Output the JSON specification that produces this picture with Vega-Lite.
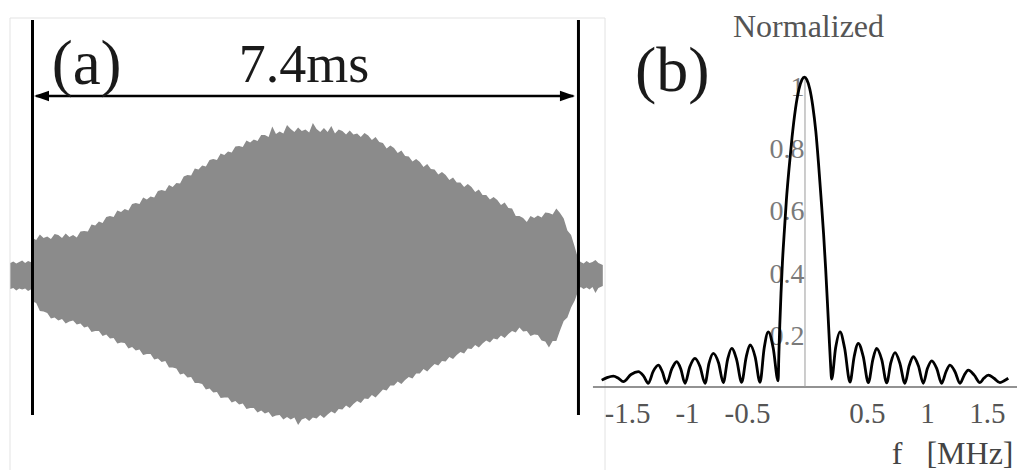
{
  "$schema": "https://vega.github.io/schema/vega-lite/v6.json",
  "width": 1017,
  "height": 470,
  "autosize": {"type": "none"},
  "padding": 0,
  "background": "white",
  "config": {"view": {"stroke": null}, "text": {"font": "Liberation Serif"}},
  "datasets": {
    "wave": [
      {"t": -0.30, "hi": 1.2, "lo": -1.4},
      {"t": -0.26, "hi": 1.35, "lo": -1.3},
      {"t": -0.22, "hi": 1.15, "lo": -1.55},
      {"t": -0.18, "hi": 1.3, "lo": -1.35},
      {"t": -0.14, "hi": 1.45, "lo": -1.45},
      {"t": -0.10, "hi": 1.2, "lo": -1.35},
      {"t": -0.06, "hi": 1.4, "lo": -1.6},
      {"t": -0.01, "hi": 1.25, "lo": -1.4},
      {"t": 0.00, "hi": 3.7, "lo": -2.65},
      {"t": 0.05, "hi": 3.5, "lo": -2.8},
      {"t": 0.10, "hi": 4.05, "lo": -3.6},
      {"t": 0.15, "hi": 3.7, "lo": -3.65},
      {"t": 0.20, "hi": 3.85, "lo": -3.8},
      {"t": 0.25, "hi": 3.6, "lo": -4.35},
      {"t": 0.30, "hi": 4.1, "lo": -4.25},
      {"t": 0.35, "hi": 4.0, "lo": -4.55},
      {"t": 0.40, "hi": 3.7, "lo": -4.4},
      {"t": 0.45, "hi": 4.15, "lo": -4.85},
      {"t": 0.50, "hi": 3.8, "lo": -4.65},
      {"t": 0.55, "hi": 4.0, "lo": -4.55},
      {"t": 0.60, "hi": 3.75, "lo": -4.95},
      {"t": 0.65, "hi": 4.35, "lo": -4.85},
      {"t": 0.70, "hi": 4.4, "lo": -5.25},
      {"t": 0.75, "hi": 4.35, "lo": -5.15},
      {"t": 0.80, "hi": 5.05, "lo": -5.7},
      {"t": 0.85, "hi": 4.95, "lo": -5.6},
      {"t": 0.90, "hi": 5.35, "lo": -5.6},
      {"t": 0.95, "hi": 5.2, "lo": -6.1},
      {"t": 1.00, "hi": 5.8, "lo": -5.95},
      {"t": 1.05, "hi": 5.9, "lo": -6.35},
      {"t": 1.10, "hi": 5.8, "lo": -6.3},
      {"t": 1.15, "hi": 6.45, "lo": -6.85},
      {"t": 1.20, "hi": 6.3, "lo": -6.75},
      {"t": 1.25, "hi": 6.6, "lo": -6.8},
      {"t": 1.30, "hi": 6.45, "lo": -7.35},
      {"t": 1.35, "hi": 7.1, "lo": -7.2},
      {"t": 1.40, "hi": 7.2, "lo": -7.55},
      {"t": 1.45, "hi": 7.1, "lo": -7.45},
      {"t": 1.50, "hi": 7.75, "lo": -8.0},
      {"t": 1.55, "hi": 7.55, "lo": -7.9},
      {"t": 1.60, "hi": 7.85, "lo": -7.9},
      {"t": 1.65, "hi": 7.75, "lo": -8.45},
      {"t": 1.70, "hi": 8.4, "lo": -8.35},
      {"t": 1.75, "hi": 8.5, "lo": -8.7},
      {"t": 1.80, "hi": 8.4, "lo": -8.6},
      {"t": 1.85, "hi": 9.0, "lo": -9.25},
      {"t": 1.90, "hi": 8.8, "lo": -9.25},
      {"t": 1.95, "hi": 9.2, "lo": -9.35},
      {"t": 2.00, "hi": 9.15, "lo": -9.95},
      {"t": 2.05, "hi": 9.85, "lo": -9.85},
      {"t": 2.10, "hi": 10.0, "lo": -10.25},
      {"t": 2.15, "hi": 9.95, "lo": -10.2},
      {"t": 2.20, "hi": 10.65, "lo": -10.8},
      {"t": 2.25, "hi": 10.55, "lo": -10.8},
      {"t": 2.30, "hi": 10.95, "lo": -10.9},
      {"t": 2.35, "hi": 10.85, "lo": -11.45},
      {"t": 2.40, "hi": 11.5, "lo": -11.35},
      {"t": 2.45, "hi": 11.6, "lo": -11.75},
      {"t": 2.50, "hi": 11.5, "lo": -11.7},
      {"t": 2.55, "hi": 12.15, "lo": -12.3},
      {"t": 2.60, "hi": 12.0, "lo": -12.25},
      {"t": 2.65, "hi": 12.35, "lo": -12.25},
      {"t": 2.70, "hi": 12.25, "lo": -12.75},
      {"t": 2.75, "hi": 12.85, "lo": -12.6},
      {"t": 2.80, "hi": 12.9, "lo": -12.95},
      {"t": 2.85, "hi": 12.8, "lo": -12.85},
      {"t": 2.90, "hi": 13.45, "lo": -13.4},
      {"t": 2.95, "hi": 13.25, "lo": -13.3},
      {"t": 3.00, "hi": 13.55, "lo": -13.3},
      {"t": 3.05, "hi": 13.4, "lo": -13.75},
      {"t": 3.10, "hi": 14.0, "lo": -13.55},
      {"t": 3.15, "hi": 14.0, "lo": -13.85},
      {"t": 3.20, "hi": 13.8, "lo": -13.7},
      {"t": 3.25, "hi": 14.85, "lo": -14.2},
      {"t": 3.30, "hi": 14.1, "lo": -14.05},
      {"t": 3.35, "hi": 14.35, "lo": -14.0},
      {"t": 3.40, "hi": 14.15, "lo": -14.45},
      {"t": 3.45, "hi": 15.0, "lo": -14.2},
      {"t": 3.50, "hi": 14.6, "lo": -14.45},
      {"t": 3.55, "hi": 14.3, "lo": -14.25},
      {"t": 3.60, "hi": 14.75, "lo": -15.0},
      {"t": 3.65, "hi": 14.4, "lo": -14.45},
      {"t": 3.70, "hi": 14.55, "lo": -14.3},
      {"t": 3.75, "hi": 14.25, "lo": -14.6},
      {"t": 3.80, "hi": 15.2, "lo": -14.25},
      {"t": 3.85, "hi": 14.6, "lo": -14.35},
      {"t": 3.90, "hi": 14.3, "lo": -14.0},
      {"t": 3.95, "hi": 14.7, "lo": -14.3},
      {"t": 4.00, "hi": 14.3, "lo": -13.95},
      {"t": 4.05, "hi": 14.9, "lo": -13.65},
      {"t": 4.10, "hi": 14.15, "lo": -13.85},
      {"t": 4.15, "hi": 14.55, "lo": -13.4},
      {"t": 4.20, "hi": 14.4, "lo": -13.45},
      {"t": 4.25, "hi": 14.05, "lo": -13.05},
      {"t": 4.30, "hi": 14.45, "lo": -13.3},
      {"t": 4.35, "hi": 14.05, "lo": -12.9},
      {"t": 4.40, "hi": 14.15, "lo": -12.6},
      {"t": 4.45, "hi": 13.8, "lo": -12.8},
      {"t": 4.50, "hi": 14.2, "lo": -12.35},
      {"t": 4.55, "hi": 13.95, "lo": -12.4},
      {"t": 4.60, "hi": 13.5, "lo": -12.0},
      {"t": 4.65, "hi": 13.8, "lo": -12.25},
      {"t": 4.70, "hi": 13.3, "lo": -11.85},
      {"t": 4.75, "hi": 13.2, "lo": -11.45},
      {"t": 4.80, "hi": 12.65, "lo": -11.55},
      {"t": 4.85, "hi": 12.95, "lo": -11.05},
      {"t": 4.90, "hi": 12.7, "lo": -11.05},
      {"t": 4.95, "hi": 12.2, "lo": -10.65},
      {"t": 5.00, "hi": 12.45, "lo": -10.9},
      {"t": 5.05, "hi": 11.9, "lo": -10.5},
      {"t": 5.10, "hi": 11.85, "lo": -10.2},
      {"t": 5.15, "hi": 11.35, "lo": -10.35},
      {"t": 5.20, "hi": 11.6, "lo": -9.85},
      {"t": 5.25, "hi": 11.3, "lo": -9.85},
      {"t": 5.30, "hi": 10.8, "lo": -9.4},
      {"t": 5.35, "hi": 11.1, "lo": -9.65},
      {"t": 5.40, "hi": 10.6, "lo": -9.25},
      {"t": 5.45, "hi": 10.55, "lo": -8.9},
      {"t": 5.50, "hi": 10.05, "lo": -9.05},
      {"t": 5.55, "hi": 10.3, "lo": -8.6},
      {"t": 5.60, "hi": 10.0, "lo": -8.65},
      {"t": 5.65, "hi": 9.5, "lo": -8.2},
      {"t": 5.70, "hi": 9.75, "lo": -8.4},
      {"t": 5.75, "hi": 9.25, "lo": -8.0},
      {"t": 5.80, "hi": 9.25, "lo": -7.7},
      {"t": 5.85, "hi": 8.8, "lo": -7.85},
      {"t": 5.90, "hi": 9.1, "lo": -7.35},
      {"t": 5.95, "hi": 8.8, "lo": -7.4},
      {"t": 6.00, "hi": 8.3, "lo": -7.0},
      {"t": 6.05, "hi": 8.55, "lo": -7.25},
      {"t": 6.10, "hi": 8.0, "lo": -6.85},
      {"t": 6.15, "hi": 8.0, "lo": -6.55},
      {"t": 6.20, "hi": 7.55, "lo": -6.75},
      {"t": 6.25, "hi": 7.8, "lo": -6.35},
      {"t": 6.30, "hi": 7.5, "lo": -6.45},
      {"t": 6.35, "hi": 7.0, "lo": -6.05},
      {"t": 6.40, "hi": 7.25, "lo": -6.3},
      {"t": 6.45, "hi": 6.7, "lo": -5.9},
      {"t": 6.50, "hi": 6.65, "lo": -5.6},
      {"t": 6.55, "hi": 5.9, "lo": -5.75},
      {"t": 6.60, "hi": 5.9, "lo": -5.25},
      {"t": 6.65, "hi": 5.7, "lo": -5.65},
      {"t": 6.70, "hi": 5.3, "lo": -5.6},
      {"t": 6.75, "hi": 5.9, "lo": -6.1},
      {"t": 6.80, "hi": 5.7, "lo": -5.95},
      {"t": 6.85, "hi": 5.95, "lo": -6.0},
      {"t": 6.90, "hi": 5.75, "lo": -6.55},
      {"t": 6.95, "hi": 6.25, "lo": -6.65},
      {"t": 7.00, "hi": 6.2, "lo": -7.25},
      {"t": 7.05, "hi": 6.05, "lo": -6.6},
      {"t": 7.10, "hi": 6.65, "lo": -6.6},
      {"t": 7.15, "hi": 6.2, "lo": -5.55},
      {"t": 7.20, "hi": 5.65, "lo": -4.6},
      {"t": 7.25, "hi": 4.45, "lo": -4.25},
      {"t": 7.30, "hi": 4.0, "lo": -3.25},
      {"t": 7.35, "hi": 2.8, "lo": -2.55},
      {"t": 7.40, "hi": 1.5, "lo": -1.5},
      {"t": 7.43, "hi": 1.3, "lo": -1.2},
      {"t": 7.47, "hi": 1.15, "lo": -1.4},
      {"t": 7.51, "hi": 1.4, "lo": -1.25},
      {"t": 7.55, "hi": 1.2, "lo": -1.45},
      {"t": 7.59, "hi": 1.3, "lo": -1.2},
      {"t": 7.63, "hi": 1.5, "lo": -1.8},
      {"t": 7.67, "hi": 1.2, "lo": -1.3},
      {"t": 7.73, "hi": 1.0, "lo": -1.1}
    ],
    "spec": [
      {"f": -1.694, "v": 0.022},
      {"f": -1.65, "v": 0.03},
      {"f": -1.597, "v": 0.035},
      {"f": -1.555, "v": 0.028},
      {"f": -1.514, "v": 0.017},
      {"f": -1.45, "v": 0.04},
      {"f": -1.389, "v": 0.049},
      {"f": -1.345, "v": 0.035},
      {"f": -1.306, "v": 0.012},
      {"f": -1.265, "v": 0.05},
      {"f": -1.222, "v": 0.07},
      {"f": -1.19, "v": 0.05},
      {"f": -1.153, "v": 0.012},
      {"f": -1.11, "v": 0.058},
      {"f": -1.069, "v": 0.081},
      {"f": -1.035, "v": 0.058},
      {"f": -1.0, "v": 0.012},
      {"f": -0.96, "v": 0.065},
      {"f": -0.917, "v": 0.092},
      {"f": -0.875, "v": 0.066},
      {"f": -0.833, "v": 0.012},
      {"f": -0.80, "v": 0.076},
      {"f": -0.764, "v": 0.108},
      {"f": -0.72, "v": 0.077},
      {"f": -0.681, "v": 0.014},
      {"f": -0.645, "v": 0.088},
      {"f": -0.611, "v": 0.124},
      {"f": -0.57, "v": 0.088},
      {"f": -0.528, "v": 0.015},
      {"f": -0.49, "v": 0.096},
      {"f": -0.458, "v": 0.135},
      {"f": -0.415, "v": 0.096},
      {"f": -0.375, "v": 0.015},
      {"f": -0.34, "v": 0.125},
      {"f": -0.306, "v": 0.177},
      {"f": -0.265, "v": 0.125},
      {"f": -0.224, "v": 0.02},
      {"f": -0.218, "v": 0.10},
      {"f": -0.21, "v": 0.2},
      {"f": -0.2, "v": 0.3},
      {"f": -0.188, "v": 0.4},
      {"f": -0.172, "v": 0.5},
      {"f": -0.155, "v": 0.6},
      {"f": -0.133, "v": 0.7},
      {"f": -0.108, "v": 0.8},
      {"f": -0.08, "v": 0.89},
      {"f": -0.05, "v": 0.955},
      {"f": -0.025, "v": 0.985},
      {"f": -0.005, "v": 0.993},
      {"f": 0.015, "v": 0.985},
      {"f": 0.04, "v": 0.955},
      {"f": 0.065, "v": 0.9},
      {"f": 0.09, "v": 0.82},
      {"f": 0.112, "v": 0.72},
      {"f": 0.135, "v": 0.6},
      {"f": 0.155, "v": 0.49},
      {"f": 0.172, "v": 0.38},
      {"f": 0.187, "v": 0.27},
      {"f": 0.2, "v": 0.17},
      {"f": 0.212, "v": 0.08},
      {"f": 0.222, "v": 0.025},
      {"f": 0.255, "v": 0.125},
      {"f": 0.292, "v": 0.177},
      {"f": 0.33, "v": 0.125},
      {"f": 0.375, "v": 0.016},
      {"f": 0.41, "v": 0.098},
      {"f": 0.444, "v": 0.14},
      {"f": 0.485, "v": 0.098},
      {"f": 0.528, "v": 0.014},
      {"f": 0.565, "v": 0.087},
      {"f": 0.597, "v": 0.124},
      {"f": 0.64, "v": 0.087},
      {"f": 0.681, "v": 0.013},
      {"f": 0.715, "v": 0.077},
      {"f": 0.75, "v": 0.11},
      {"f": 0.79, "v": 0.077},
      {"f": 0.833, "v": 0.012},
      {"f": 0.868, "v": 0.068},
      {"f": 0.903, "v": 0.097},
      {"f": 0.945, "v": 0.068},
      {"f": 0.986, "v": 0.012},
      {"f": 1.02, "v": 0.059},
      {"f": 1.056, "v": 0.084},
      {"f": 1.098, "v": 0.059},
      {"f": 1.139, "v": 0.012},
      {"f": 1.175, "v": 0.049},
      {"f": 1.208, "v": 0.07},
      {"f": 1.25, "v": 0.049},
      {"f": 1.292, "v": 0.012},
      {"f": 1.327, "v": 0.038},
      {"f": 1.361, "v": 0.054},
      {"f": 1.41, "v": 0.038},
      {"f": 1.458, "v": 0.014},
      {"f": 1.49, "v": 0.028},
      {"f": 1.528, "v": 0.038},
      {"f": 1.575, "v": 0.028},
      {"f": 1.625, "v": 0.014},
      {"f": 1.66, "v": 0.02},
      {"f": 1.694, "v": 0.028}
    ]
  },
  "layer": [
    {
      "layer": [
        {
          "data": {"values": [{}]},
          "mark": {"type": "rect", "fill": null, "stroke": "#e3e3e3", "strokeWidth": 1},
          "encoding": {
            "x": {"datum": -0.305, "type": "quantitative", "scale": {"domain": [-0.4405, 13.344], "nice": false, "zero": false}, "axis": null},
            "x2": {"datum": 7.76},
            "y": {"datum": 25.7, "type": "quantitative", "scale": {"domain": [-19.5, 27.5], "nice": false, "zero": false}, "axis": null},
            "y2": {"datum": -25}
          }
        },
        {
          "data": {"name": "wave"},
          "mark": {"type": "area", "color": "#8b8b8b", "interpolate": "linear"},
          "encoding": {
            "x": {"field": "t", "type": "quantitative", "scale": {"domain": [-0.4405, 13.344], "nice": false, "zero": false}, "axis": null},
            "y": {"field": "hi", "type": "quantitative", "scale": {"domain": [-19.5, 27.5], "nice": false, "zero": false}, "axis": null},
            "y2": {"field": "lo"}
          }
        },
        {
          "data": {"values": [{"t": 0}, {"t": 7.4}]},
          "mark": {"type": "rule", "color": "#000000", "strokeWidth": 3},
          "encoding": {
            "x": {"field": "t", "type": "quantitative", "scale": {"domain": [-0.4405, 13.344], "nice": false, "zero": false}, "axis": null},
            "y": {"datum": 25.5, "type": "quantitative", "scale": {"domain": [-19.5, 27.5], "nice": false, "zero": false}, "axis": null},
            "y2": {"datum": -14.0}
          }
        },
        {
          "data": {"values": [{}]},
          "mark": {"type": "rule", "color": "#000000", "strokeWidth": 2.5},
          "encoding": {
            "x": {"datum": 0.05, "type": "quantitative", "scale": {"domain": [-0.4405, 13.344], "nice": false, "zero": false}, "axis": null},
            "x2": {"datum": 7.33},
            "y": {"datum": 17.9, "type": "quantitative", "scale": {"domain": [-19.5, 27.5], "nice": false, "zero": false}, "axis": null}
          }
        },
        {
          "data": {"values": [{}]},
          "mark": {"type": "point", "shape": "M1,0L-1,-0.7L-1,0.7Z", "filled": true, "color": "#000000", "size": 225, "opacity": 1},
          "encoding": {
            "x": {"datum": 7.251, "type": "quantitative", "scale": {"domain": [-0.4405, 13.344], "nice": false, "zero": false}, "axis": null},
            "y": {"datum": 17.9, "type": "quantitative", "scale": {"domain": [-19.5, 27.5], "nice": false, "zero": false}, "axis": null}
          }
        },
        {
          "data": {"values": [{}]},
          "mark": {"type": "point", "shape": "M-1,0L1,-0.7L1,0.7Z", "filled": true, "color": "#000000", "size": 225, "opacity": 1},
          "encoding": {
            "x": {"datum": 0.122, "type": "quantitative", "scale": {"domain": [-0.4405, 13.344], "nice": false, "zero": false}, "axis": null},
            "y": {"datum": 17.9, "type": "quantitative", "scale": {"domain": [-19.5, 27.5], "nice": false, "zero": false}, "axis": null}
          }
        },
        {
          "data": {"values": [{}]},
          "mark": {"type": "text", "text": "(a)", "font": "Liberation Serif", "fontSize": 63, "align": "left", "baseline": "alphabetic", "color": "#1a1a1a"},
          "encoding": {
            "x": {"datum": 0.26, "type": "quantitative", "scale": {"domain": [-0.4405, 13.344], "nice": false, "zero": false}, "axis": null},
            "y": {"datum": 19.1, "type": "quantitative", "scale": {"domain": [-19.5, 27.5], "nice": false, "zero": false}, "axis": null}
          }
        },
        {
          "data": {"values": [{}]},
          "mark": {"type": "text", "text": "7.4ms", "font": "Liberation Serif", "fontSize": 54, "align": "center", "baseline": "alphabetic", "color": "#1a1a1a"},
          "encoding": {
            "x": {"datum": 3.68, "type": "quantitative", "scale": {"domain": [-0.4405, 13.344], "nice": false, "zero": false}, "axis": null},
            "y": {"datum": 19.3, "type": "quantitative", "scale": {"domain": [-19.5, 27.5], "nice": false, "zero": false}, "axis": null}
          }
        }
      ]
    },
    {
      "layer": [
        {
          "data": {"values": [{}]},
          "mark": {"type": "rule", "color": "#6e6e6e", "strokeWidth": 1.5},
          "encoding": {
            "x": {"datum": -1.767, "type": "quantitative", "scale": {"domain": [-6.7083, 1.7667], "nice": false, "zero": false}},
            "x2": {"datum": 1.77},
            "y": {"datum": 0, "type": "quantitative", "scale": {"domain": [-0.266, 1.2404], "nice": false, "zero": false}}
          }
        },
        {
          "data": {"values": [{}]},
          "mark": {"type": "rule", "color": "#9a9a9a", "strokeWidth": 1},
          "encoding": {
            "x": {"datum": 0, "type": "quantitative", "scale": {"domain": [-6.7083, 1.7667], "nice": false, "zero": false}},
            "y": {"datum": 0, "type": "quantitative", "scale": {"domain": [-0.266, 1.2404], "nice": false, "zero": false}},
            "y2": {"datum": 0.99}
          }
        },
        {
          "data": {"name": "spec"},
          "mark": {"type": "line", "color": "#000000", "strokeWidth": 2.8, "interpolate": "monotone"},
          "encoding": {
            "x": {
              "field": "f", "type": "quantitative",
              "scale": {"domain": [-6.7083, 1.7667], "nice": false, "zero": false},
              "axis": {
                "orient": "bottom", "offset": -83, "values": [-1.5, -1, -0.5, 0.5, 1, 1.5],
                "labelExpr": "toString(datum.value)", "domain": false, "ticks": false, "grid": false,
                "labelFont": "Liberation Serif", "labelFontSize": 29, "labelColor": "#555555",
                "labelBaseline": "alphabetic", "labelPadding": 35, "labelOffset": 2,
                "labelFlush": false, "labelOverlap": false, "labelBound": false,
                "title": "f\u00a0\u00a0\u00a0[MHz]", "titleFont": "Liberation Serif", "titleFontSize": 32,
                "titleFontWeight": "normal", "titleColor": "#444444", "titleAlign": "right",
                "titleBaseline": "alphabetic", "titleX": 1013, "titleY": 76, "titleAngle": 0
              }
            },
            "y": {
              "field": "v", "type": "quantitative",
              "scale": {"domain": [-0.266, 1.2404], "nice": false, "zero": false},
              "axis": {
                "orient": "left", "offset": -805, "values": [0.2, 0.4, 0.6, 0.8, 1],
                "labelExpr": "toString(datum.value)",
                "domain": false, "ticks": false, "grid": false,
                "labelFont": "Liberation Serif", "labelFontSize": 28, "labelColor": "#7a7a7a",
                "labelAlign": "right", "labelBaseline": "middle", "labelPadding": 1, "labelOffset": 12,
                "labelFlush": false, "labelOverlap": false, "labelBound": false,
                "title": "Normalized", "titleFont": "Liberation Serif", "titleFontSize": 32,
                "titleFontWeight": "normal", "titleColor": "#555555", "titleAngle": 0,
                "titleAlign": "center", "titleBaseline": "alphabetic", "titleX": 3, "titleY": 36
              }
            }
          }
        },
        {
          "data": {"values": [{}]},
          "mark": {"type": "text", "text": "(b)", "font": "Liberation Serif", "fontSize": 64, "align": "left", "baseline": "alphabetic", "color": "#1a1a1a"},
          "encoding": {
            "x": {"datum": -1.417, "type": "quantitative", "scale": {"domain": [-6.7083, 1.7667], "nice": false, "zero": false}},
            "y": {"datum": 0.949, "type": "quantitative", "scale": {"domain": [-0.266, 1.2404], "nice": false, "zero": false}}
          }
        }
      ]
    }
  ],
  "resolve": {"scale": {"x": "independent", "y": "independent"}, "axis": {"x": "independent", "y": "independent"}}
}
